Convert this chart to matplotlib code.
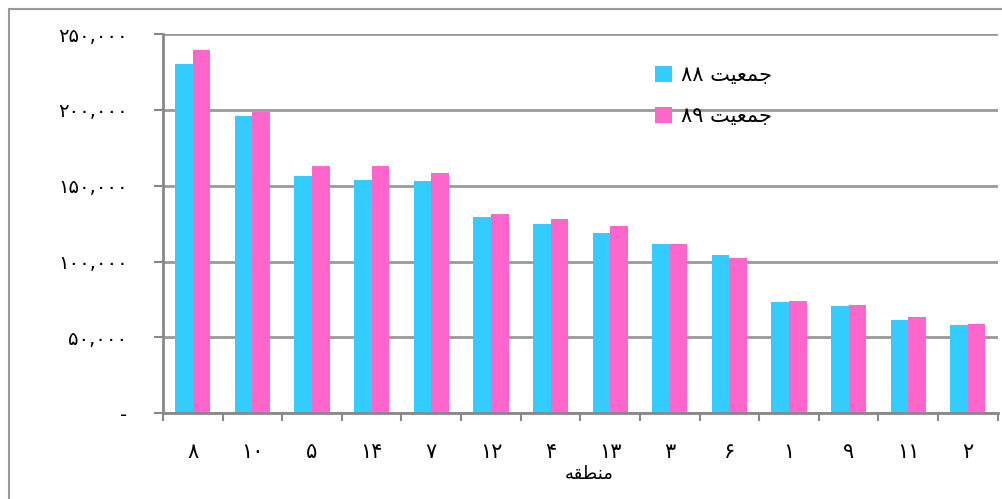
import matplotlib
matplotlib.use("Agg")
import matplotlib.pyplot as plt
from matplotlib.patches import Rectangle
import numpy as np

plt.rcParams['font.family'] = ['DejaVu Sans']

# Data (region order as shown, Persian numerals)
regions = ["۸", "۱۰", "۵", "۱۴", "۷", "۱۲", "۴", "۱۳", "۳", "۶", "۱", "۹", "۱۱", "۲"]
pop88 = [230200, 196000, 156400, 153800, 153100, 129400, 124800, 118800, 111600, 104300, 73400, 70700, 61500, 58200]
pop89 = [239500, 198600, 163000, 163000, 158400, 131400, 128100, 123500, 111600, 102400, 74000, 71400, 63500, 58900]
yticks = [0, 50000, 100000, 150000, 200000, 250000]
ytick_labels = ["-", "۵۰,۰۰۰", "۱۰۰,۰۰۰", "۱۵۰,۰۰۰", "۲۰۰,۰۰۰", "۲۵۰,۰۰۰"]
# Pre-shaped (visual order) Persian strings
word_pop = "\uFE96\uFEF4\uFECC\uFEE4\uFE9F"      # جمعیت
label88 = "۸۸ " + word_pop
label89 = "۸۹ " + word_pop
xlabel = "\uFEEA\uFED8\uFEC4\uFEE8\uFEE3"         # منطقه

c88 = "#33CCFF"
c89 = "#FF66CC"
gridc = "#999999"
axc = "#888888"

W, H = 1002, 499
fig = plt.figure(figsize=(W / 100, H / 100), dpi=100)
ax = fig.add_axes([163 / W, 1 - 413.3 / H, (997.7 - 163) / W, (413.3 - 34) / H])

x = np.arange(len(regions))
bw = 0.295
ax.bar(x - bw / 2, pop88, bw, color=c88, label=label88, zorder=3)
ax.bar(x + bw / 2, pop89, bw, color=c89, label=label89, zorder=3)

ax.set_xlim(-0.5, len(regions) - 0.5)
ax.set_ylim(0, 250000)

ax.set_yticks(yticks)
ax.set_yticklabels(ytick_labels, fontsize=14)
ax.set_xticks(x)
ax.set_xticklabels(regions, fontsize=15)
ax.set_xticks(np.arange(len(regions) + 1) - 0.5, minor=True)
ax.tick_params(axis='x', which='major', length=0, pad=21)
ax.tick_params(axis='x', which='minor', length=6, width=1.5, color=axc, direction='out')
ax.tick_params(axis='y', length=6.5, width=1.5, color=axc, direction='out', pad=19)

ax.yaxis.grid(True, color=gridc, linewidth=2, zorder=0)
ax.set_axisbelow(True)
for s in ['top', 'right']:
    ax.spines[s].set_visible(False)
for s in ['left', 'bottom']:
    ax.spines[s].set_color(axc)
    ax.spines[s].set_linewidth(2)
    ax.spines[s].set_zorder(4)

ax.set_xlabel(xlabel, fontsize=13)
ax.xaxis.set_label_coords(0.51, -0.135)

ax.legend(loc='upper left', bbox_to_anchor=((647 - 163) / (997.7 - 163), 1.0 - (57 - 34) / 379.3),
          frameon=False, handlelength=0.8, handleheight=0.8, handletextpad=0.45,
          labelspacing=1.0, fontsize=15, borderaxespad=0)

fig.patches.append(Rectangle((9 / W, -0.1), 1.2, 1 - 9 / H + 0.1, transform=fig.transFigure,
                             fill=False, edgecolor="#999999", linewidth=1.5))

fig.savefig("out.png", dpi=100)
